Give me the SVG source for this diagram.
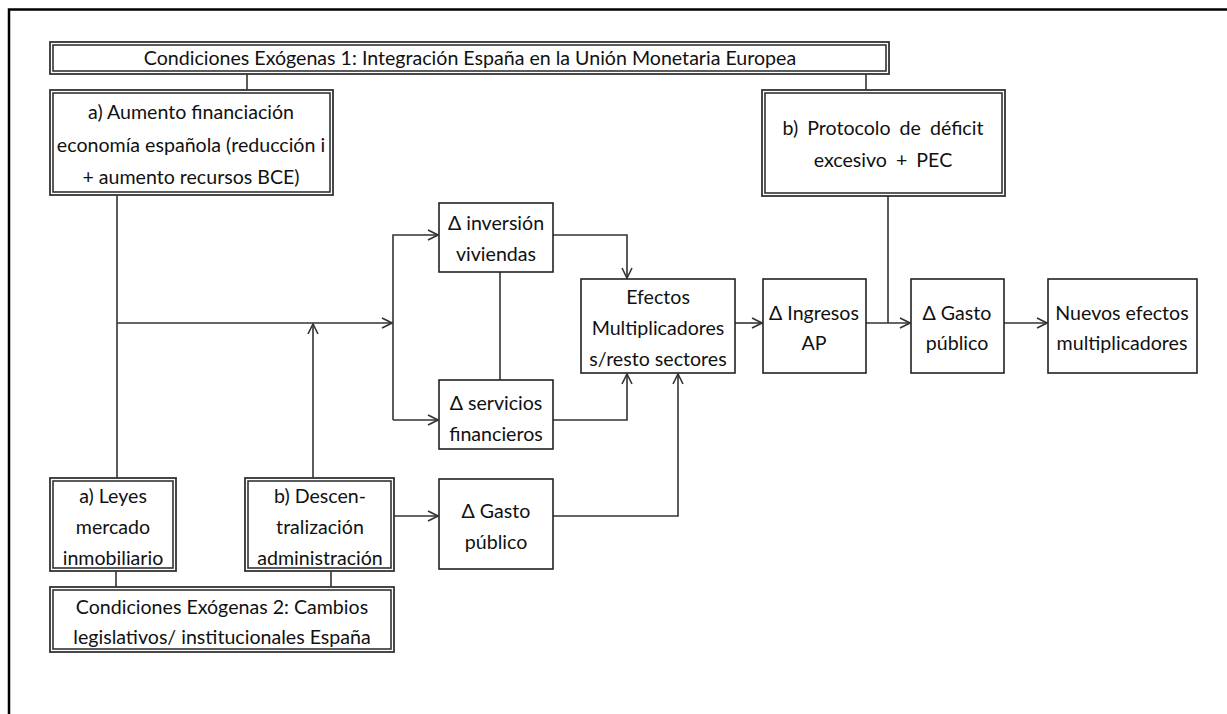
<svg xmlns="http://www.w3.org/2000/svg" width="1227" height="714" viewBox="0 0 1227 714">
<style>
text{font-family:Lato,"Liberation Sans",sans-serif;font-size:19.6px;fill:#111;text-anchor:middle}
.box{fill:#fff;stroke:#222;stroke-width:1.6}
.dbo{fill:#fff;stroke:#333;stroke-width:1.8}
.dbi{fill:none;stroke:#333;stroke-width:1.6}
.c{fill:none;stroke:#333;stroke-width:1.6}
</style>
<defs>
<marker id="ah" viewBox="0 0 12 12" refX="11" refY="6" markerWidth="12" markerHeight="12" markerUnits="userSpaceOnUse" orient="auto">
<path d="M1,1 L11,6 L1,11" fill="none" stroke="#333" stroke-width="1.6"/>
</marker>
</defs>
<rect x="0" y="0" width="1227" height="714" fill="#fff"/>
<path d="M9,714 V9.5 H1227" fill="none" stroke="#000" stroke-width="2.5"/>

<g id="connectors">
<path class="c" d="M247,74 V90"/>
<path class="c" d="M866,74 V90"/>
<path class="c" d="M117,195 V478"/>
<path class="c" d="M117,323 H392" marker-end="url(#ah)"/>
<path class="c" d="M313,478 V324" marker-end="url(#ah)"/>
<path class="c" d="M393,420 V235 H438" marker-end="url(#ah)"/>
<path class="c" d="M393,420 H438" marker-end="url(#ah)"/>
<path class="c" d="M500,272 V380"/>
<path class="c" d="M553,235 H627 V278" marker-end="url(#ah)"/>
<path class="c" d="M553,420 H627 V374" marker-end="url(#ah)"/>
<path class="c" d="M553,516 H678 V374" marker-end="url(#ah)"/>
<path class="c" d="M394,516 H438" marker-end="url(#ah)"/>
<path class="c" d="M735,323 H762" marker-end="url(#ah)"/>
<path class="c" d="M866,323 H910" marker-end="url(#ah)"/>
<path class="c" d="M888,196 V323"/>
<path class="c" d="M1004,323 H1047" marker-end="url(#ah)"/>
<path class="c" d="M116,571 V587"/>
<path class="c" d="M331,571 V587"/>
</g>

<g id="cond1">
<rect class="dbo" x="50" y="42" width="839" height="32"/>
<rect class="dbi" x="53" y="45" width="833" height="26"/>
<text x="470" y="65">Condiciones Exógenas 1: Integración España en la Unión Monetaria Europea</text>
</g>

<g id="aumento">
<rect class="dbo" x="50" y="90" width="283" height="105"/>
<rect class="dbi" x="53" y="93" width="277" height="99"/>
<text x="191" y="119">a) Aumento financiación</text>
<text x="191" y="152">economía española (reducción i</text>
<text x="191" y="184">+ aumento recursos BCE)</text>
</g>

<g id="protocolo">
<rect class="dbo" x="762" y="90" width="243" height="106"/>
<rect class="dbi" x="765" y="93" width="237" height="100"/>
<text x="883" y="135" word-spacing="4">b) Protocolo de déficit</text>
<text x="883" y="167" word-spacing="4">excesivo + PEC</text>
</g>

<g id="inversion">
<rect class="box" x="439" y="203" width="114" height="69"/>
<text x="496" y="230">Δ inversión</text>
<text x="496" y="261">viviendas</text>
</g>

<g id="servicios">
<rect class="box" x="439" y="380" width="114" height="69"/>
<text x="496" y="410">Δ servicios</text>
<text x="496" y="441">financieros</text>
</g>

<g id="efectos">
<rect class="box" x="581" y="279" width="154" height="94"/>
<text x="658" y="304">Efectos</text>
<text x="658" y="335">Multiplicadores</text>
<text x="658" y="366">s/resto sectores</text>
</g>

<g id="ingresos">
<rect class="box" x="763" y="279" width="103" height="94"/>
<text x="814" y="320">Δ Ingresos</text>
<text x="814" y="350">AP</text>
</g>

<g id="gasto2">
<rect class="box" x="911" y="279" width="93" height="94"/>
<text x="957" y="320">Δ Gasto</text>
<text x="957" y="350">público</text>
</g>

<g id="nuevos">
<rect class="box" x="1048" y="279" width="149" height="94"/>
<text x="1122" y="320">Nuevos efectos</text>
<text x="1122" y="350">multiplicadores</text>
</g>

<g id="gasto1">
<rect class="box" x="439" y="479" width="114" height="90"/>
<text x="496" y="518">Δ Gasto</text>
<text x="496" y="549">público</text>
</g>

<g id="leyes">
<rect class="dbo" x="50" y="478" width="126" height="93"/>
<rect class="dbi" x="53" y="481" width="120" height="87"/>
<text x="113" y="503">a) Leyes</text>
<text x="113" y="534">mercado</text>
<text x="113" y="565">inmobiliario</text>
</g>

<g id="descentralizacion">
<rect class="dbo" x="245" y="478" width="149" height="93"/>
<rect class="dbi" x="248" y="481" width="143" height="87"/>
<text x="320" y="503">b) Descen-</text>
<text x="320" y="534">tralización</text>
<text x="320" y="565">administración</text>
</g>

<g id="cond2">
<rect class="dbo" x="50" y="587" width="344" height="65"/>
<rect class="dbi" x="53" y="590" width="338" height="59"/>
<text x="222" y="614">Condiciones Exógenas 2: Cambios</text>
<text x="222" y="644">legislativos/ institucionales España</text>
</g>
</svg>
